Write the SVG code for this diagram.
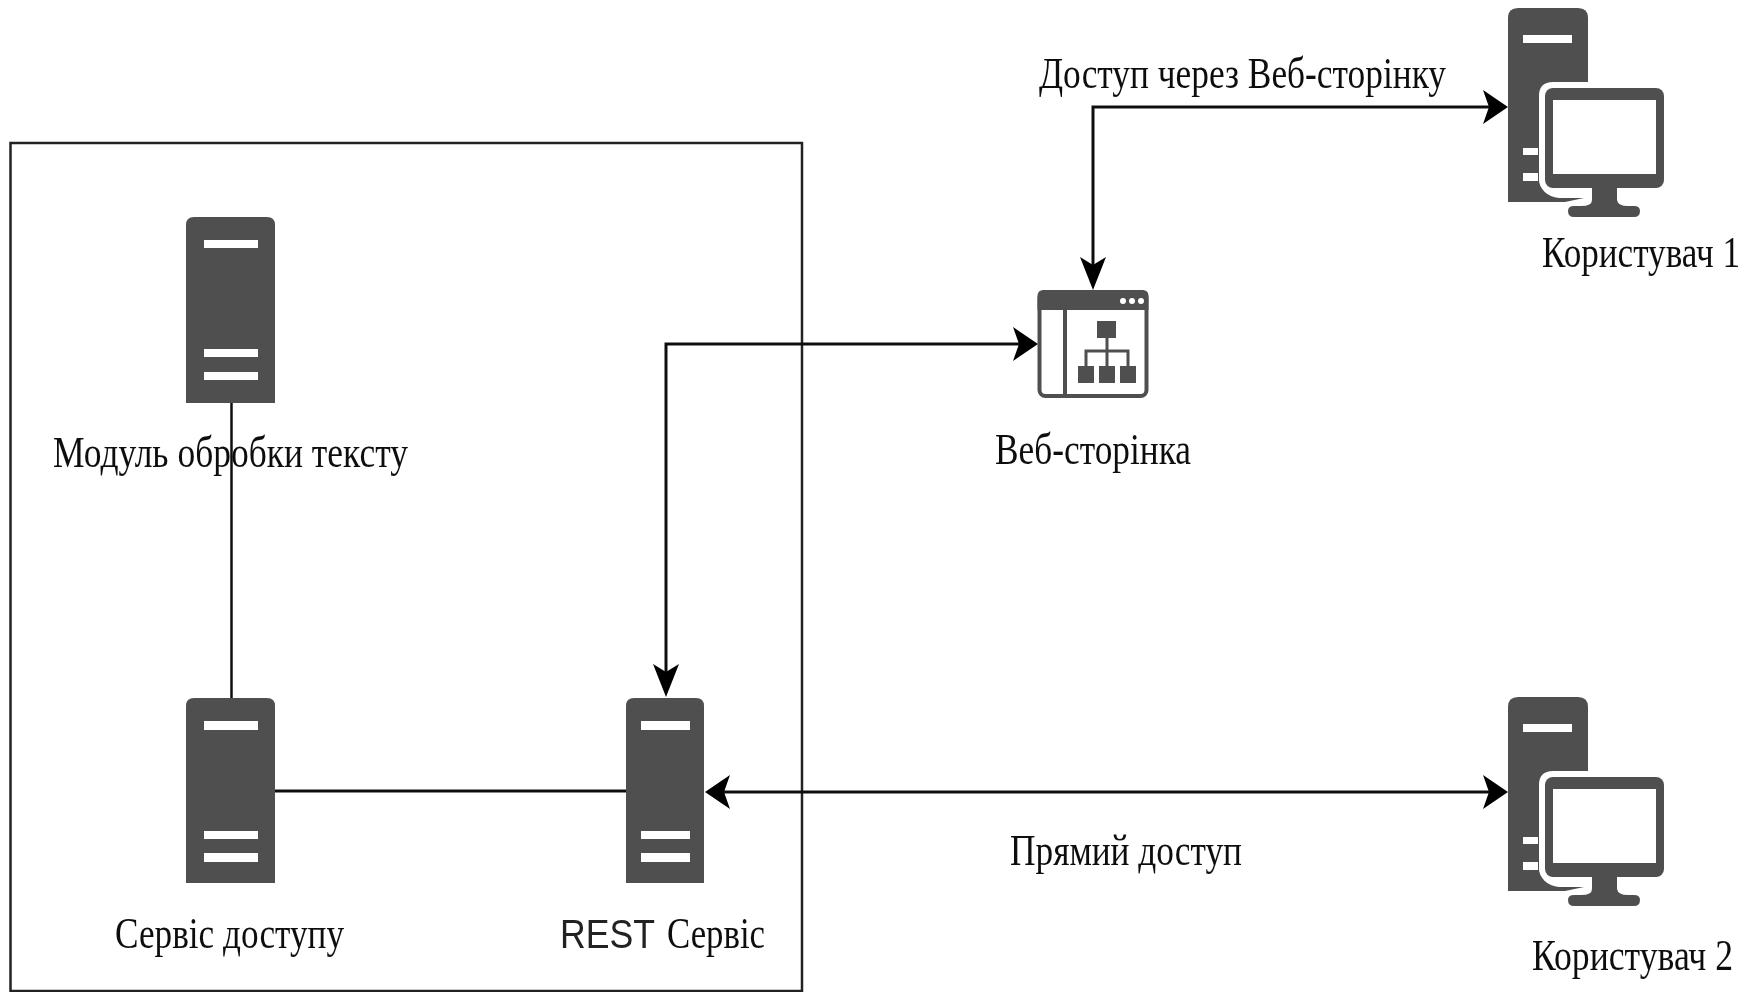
<svg xmlns="http://www.w3.org/2000/svg" width="1754" height="992" viewBox="0 0 1754 992">
<style>
.d{fill:#505050}
.w{fill:#fff}
.c{fill:none;stroke:#111;stroke-width:3}
.t{font-family:"Liberation Serif","Times New Roman",serif;font-size:36px;fill:#111}
.s{font-family:"Liberation Sans",Arial,sans-serif;font-size:34px;fill:#222}
</style>
<defs>
<filter id="soft" x="0" y="0" width="100%" height="100%" filterUnits="objectBoundingBox"><feGaussianBlur stdDeviation="0.55"/></filter>
<marker id="ah" markerUnits="userSpaceOnUse" viewBox="0 0 25 34" markerWidth="25" markerHeight="34" refX="17" refY="17" orient="auto-start-reverse"><path d="M0 0L25 17L0 34L6 17Z" fill="#000"/></marker>
<marker id="av" markerUnits="userSpaceOnUse" viewBox="0 0 33 26" markerWidth="33" markerHeight="26" refX="25" refY="13" orient="auto-start-reverse"><path d="M0 0L33 13L0 26L8 13Z" fill="#000"/></marker>
<g id="pc">
<path class="d" d="M1508 202V18Q1508 8 1518 8H1578Q1588 8 1588 18V90H1560V202Z"/>
<rect class="w" x="1523" y="35" width="49" height="8"/>
<path class="w" d="M1553 82H1680V215H1565L1575 202H1559Q1539 198 1539 180V96Q1539 82 1553 82Z"/>
<rect class="d" x="1545" y="88" width="119" height="100" rx="8"/>
<rect class="w" x="1553" y="100" width="103" height="74"/>
<path class="d" d="M1592 186H1617V200Q1618 206 1628 206H1634Q1640 206 1640 211Q1640 217 1634 217H1574Q1568 217 1568 211Q1568 206 1574 206H1581Q1592 206 1592 200Z"/>
<path class="d" d="M1508 150H1538V178Q1541 196 1559 198H1584L1565 202H1508Z"/>
<rect class="w" x="1523" y="148" width="15" height="7"/>
<rect class="w" x="1523" y="173" width="15" height="8"/>
</g>
</defs>
<rect width="1754" height="992" fill="#fff"/>
<g filter="url(#soft)">
<rect width="1754" height="992" fill="#fff"/>
<g id="container"><rect x="10.5" y="143" width="791.5" height="848" fill="none" stroke="#222" stroke-width="2.5"/></g>

<g id="server-text">
<path class="d" d="M186 403V225Q186 217 194 217H267Q275 217 275 225V403Z"/>
<rect class="w" x="204" y="240" width="54" height="8"/>
<rect class="w" x="204" y="349" width="54" height="8"/>
<rect class="w" x="204" y="372" width="54" height="8"/>
<text class="t" transform="translate(53 467) scale(1 1.22)" textLength="355" lengthAdjust="spacingAndGlyphs">Модуль обробки тексту</text>
</g>
<g id="server-access">
<path class="d" d="M186 883V706Q186 698 194 698H267Q275 698 275 706V883Z"/>
<rect class="w" x="204" y="721" width="54" height="9"/>
<rect class="w" x="204" y="831" width="54" height="8"/>
<rect class="w" x="204" y="853" width="54" height="9"/>
<text class="t" transform="translate(115 948) scale(1 1.22)" textLength="229" lengthAdjust="spacingAndGlyphs">Сервіс доступу</text>
</g>
<g id="server-rest">
<path class="d" d="M626 883V706Q626 698 634 698H696Q704 698 704 706V883Z"/>
<rect class="w" x="641" y="721" width="49" height="9"/>
<rect class="w" x="641" y="831" width="49" height="8"/>
<rect class="w" x="641" y="853" width="49" height="9"/>
<text class="s" transform="translate(560 948) scale(1 1.22)" textLength="95" lengthAdjust="spacingAndGlyphs">REST</text>
<text class="t" transform="translate(667 948) scale(1 1.22)" textLength="98" lengthAdjust="spacingAndGlyphs">Сервіс</text>
</g>
<g id="web-page">
<rect x="1039.5" y="292" width="107" height="104" rx="6" fill="#fff" stroke="#505050" stroke-width="4"/>
<path class="d" d="M1037.5 310V296Q1037.5 290 1043.5 290H1142.5Q1148.5 290 1148.5 296V310Z"/>
<rect class="d" x="1063" y="310" width="4" height="86"/>
<circle class="w" cx="1123" cy="301" r="3"/><circle class="w" cx="1132" cy="301" r="3"/><circle class="w" cx="1141" cy="301" r="3"/>
<rect class="d" x="1097" y="321" width="19" height="17"/>
<rect class="d" x="1078" y="366" width="16" height="17"/>
<rect class="d" x="1099" y="366" width="16" height="17"/>
<rect class="d" x="1120" y="366" width="16" height="17"/>
<path d="M1107 338V366M1086 366V351H1128V366" fill="none" stroke="#505050" stroke-width="3"/>
<text class="t" transform="translate(995 464) scale(1 1.22)" textLength="196" lengthAdjust="spacingAndGlyphs">Веб-сторінка</text>
</g>
<g id="user-1">
<use href="#pc"/>
<text class="t" transform="translate(1542 267) scale(1 1.22)" textLength="198" lengthAdjust="spacingAndGlyphs">Користувач 1</text>
</g>
<g id="user-2">
<use href="#pc" y="689"/>
<text class="t" transform="translate(1532 970) scale(1 1.22)" textLength="201" lengthAdjust="spacingAndGlyphs">Користувач 2</text>
</g>
<g id="labels">
<text class="t" transform="translate(1039 88) scale(1 1.22)" textLength="407" lengthAdjust="spacingAndGlyphs">Доступ через Веб-сторінку</text>
<text class="t" transform="translate(1010 865) scale(1 1.22)" textLength="232" lengthAdjust="spacingAndGlyphs">Прямий доступ</text>
</g>
<g id="connectors">
<path class="c" style="stroke-width:2.5" d="M231.5 403V698"/>
<path class="c" d="M275 791H626"/>
<path class="c" d="M713 792H1500" marker-start="url(#ah)" marker-end="url(#ah)"/>
<path class="c" d="M666 689V344H1030" marker-start="url(#av)" marker-end="url(#ah)"/>
<path class="c" d="M1093 282V107H1500" marker-start="url(#av)" marker-end="url(#ah)"/>
</g>
</g>
</svg>
